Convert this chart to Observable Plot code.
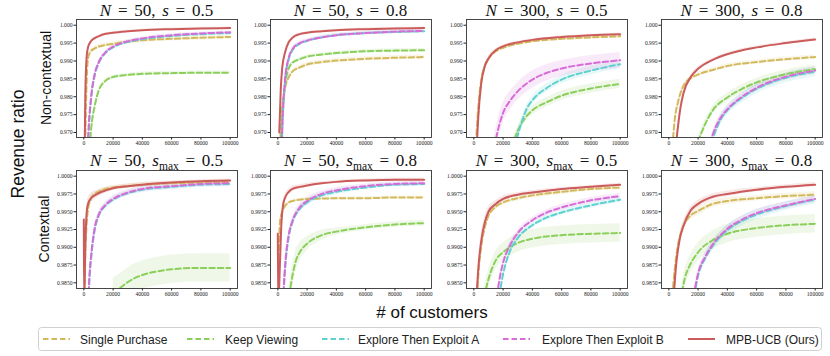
<!DOCTYPE html>
<html><head><meta charset="utf-8">
<script src="https://cdn.jsdelivr.net/npm/d3@7"></script>
<script src="https://cdn.jsdelivr.net/npm/@observablehq/plot@0.6"></script>
<style>
body{margin:0;background:#fff;}
#fig{position:relative;width:830px;height:356px;overflow:hidden;background:#fff;}
.panel{position:absolute;}
#overlay{position:absolute;left:0;top:0;pointer-events:none;}
</style></head><body><div id="fig"></div>
<script>
// ---------- data ----------
const seriesKeys = ["SP", "KV", "A", "B", "MPB"];
const seriesNames = ["Single Purchase", "Keep Viewing", "Explore Then Exploit A", "Explore Then Exploit B", "MPB-UCB (Ours)"];
const seriesColors = ["#d2b95c", "#8bcf5a", "#5fd0d0", "#d76cd8", "#cc5b5b"];
const xTicks = [0, 20000, 40000, 60000, 80000, 100000];
const yTicksTop = [0.970, 0.975, 0.980, 0.985, 0.990, 0.995, 1.000];
const yTicksBottom = [0.9850, 0.9875, 0.9900, 0.9925, 0.9950, 0.9975, 1.0000];
const colN = [50, 50, 300, 300];
const colS = ["0.5", "0.8", "0.5", "0.8"];
const rowNames = ["Non-contextual", "Contextual"];

// each entry: [customers, revenue ratio, band half-width]
const p1 = {
  SP: [[1000,0.967,0.001],[1500,0.978,0.001],[2000,0.985,0.0008],[3000,0.9910,0.0007],[5000,0.9928,0.0006],[7500,0.9935,0.0006],[10000,0.9940,0.0006],[15000,0.9945,0.0006],[20000,0.9948,0.0006],[30000,0.9954,0.0006],[40000,0.9958,0.0006],[60000,0.9962,0.0006],[80000,0.9965,0.0006],[100000,0.9967,0.0006]],
  KV: [[4000,0.966,0.0006],[5000,0.971,0.0006],[7500,0.9775,0.0006],[10000,0.9815,0.0005],[15000,0.9845,0.0005],[20000,0.9855,0.0005],[30000,0.9861,0.0005],[40000,0.9864,0.0005],[60000,0.9866,0.0005],[80000,0.9867,0.0005],[100000,0.9867,0.0005]],
  A: [[2700,0.966,0.0004],[3500,0.972,0.0004],[5000,0.9795,0.0004],[7500,0.986,0.0004],[10000,0.9892,0.0004],[15000,0.9923,0.0004],[20000,0.9938,0.0004],[30000,0.9953,0.0004],[40000,0.9961,0.0004],[60000,0.9970,0.0004],[80000,0.9975,0.0004],[100000,0.9978,0.0004]],
  B: [[2700,0.966,0.0004],[3500,0.9725,0.0004],[5000,0.980,0.0004],[7500,0.9865,0.0004],[10000,0.9895,0.0004],[15000,0.9925,0.0004],[20000,0.9940,0.0004],[30000,0.9955,0.0004],[40000,0.9963,0.0004],[60000,0.9972,0.0004],[80000,0.9977,0.0004],[100000,0.9980,0.0004]],
  MPB: [[600,0.966,0.0003],[1000,0.980,0.0003],[1500,0.988,0.0003],[2000,0.9915,0.0003],[3000,0.9940,0.0003],[5000,0.9956,0.0003],[7500,0.9964,0.0003],[10000,0.9969,0.0003],[15000,0.9976,0.0003],[20000,0.9979,0.0003],[30000,0.9983,0.0003],[40000,0.9986,0.0003],[60000,0.9989,0.0003],[80000,0.9991,0.0003],[100000,0.9992,0.0003]]
};
const p2 = {
  SP: [[1500,0.966,0.0007],[2500,0.974,0.0007],[4000,0.980,0.0007],[5000,0.9825,0.0007],[7500,0.9855,0.0007],[10000,0.9870,0.0006],[15000,0.9882,0.0006],[20000,0.9890,0.0006],[30000,0.9897,0.0006],[40000,0.9901,0.0006],[60000,0.9906,0.0006],[80000,0.9909,0.0006],[100000,0.9911,0.0006]],
  KV: [[2000,0.964,0.0005],[3000,0.975,0.0005],[5000,0.9835,0.0005],[7500,0.9880,0.0005],[10000,0.9895,0.0005],[15000,0.9905,0.0005],[20000,0.9912,0.0005],[30000,0.9918,0.0005],[40000,0.9922,0.0005],[60000,0.9927,0.0005],[80000,0.9929,0.0005],[100000,0.9930,0.0005]],
  A: [[2500,0.964,0.0004],[3500,0.975,0.0004],[5000,0.9845,0.0004],[7500,0.9905,0.0004],[10000,0.9930,0.0004],[15000,0.9948,0.0004],[20000,0.9956,0.0004],[30000,0.9966,0.0004],[40000,0.9972,0.0004],[60000,0.9978,0.0004],[80000,0.9981,0.0004],[100000,0.9983,0.0004]],
  B: [[2500,0.965,0.0005],[3500,0.976,0.0005],[5000,0.985,0.0005],[7500,0.9910,0.0005],[10000,0.9933,0.0005],[15000,0.9950,0.0005],[20000,0.9957,0.0005],[30000,0.9966,0.0005],[40000,0.9972,0.0005],[60000,0.9978,0.0005],[80000,0.9982,0.0005],[100000,0.9984,0.0005]],
  MPB: [[1000,0.970,0.0003],[2000,0.982,0.0003],[3000,0.988,0.0003],[5000,0.9925,0.0003],[7500,0.9953,0.0003],[10000,0.9965,0.0003],[15000,0.9975,0.0003],[20000,0.9979,0.0003],[30000,0.9983,0.0003],[40000,0.9986,0.0003],[60000,0.9989,0.0003],[80000,0.9991,0.0003],[100000,0.9992,0.0003]]
};
const p3 = {
  SP: [[1500,0.967,0.001],[2500,0.974,0.001],[5000,0.9845,0.0008],[7500,0.9885,0.0006],[10000,0.9905,0.0005],[15000,0.9927,0.0005],[20000,0.9937,0.0005],[30000,0.9948,0.0005],[40000,0.9955,0.0005],[60000,0.9962,0.0005],[80000,0.9966,0.0005],[100000,0.9969,0.0005]],
  KV: [[26000,0.966,0.0013],[30000,0.9705,0.0013],[35000,0.974,0.0013],[40000,0.9762,0.0013],[50000,0.9785,0.0013],[60000,0.9803,0.0013],[80000,0.9823,0.0013],[100000,0.9836,0.0013]],
  A: [[28000,0.966,0.0012],[32000,0.972,0.0012],[36000,0.9765,0.0012],[40000,0.9790,0.0012],[50000,0.9825,0.0012],[60000,0.9848,0.0012],[80000,0.9873,0.0012],[100000,0.9891,0.0012]],
  B: [[14000,0.966,0.003],[17000,0.9715,0.003],[20000,0.9755,0.0028],[25000,0.979,0.0026],[30000,0.9815,0.0025],[40000,0.9848,0.0024],[50000,0.9867,0.0023],[60000,0.9879,0.0022],[80000,0.9893,0.0022],[100000,0.9902,0.0022]],
  MPB: [[2000,0.966,0.001],[3000,0.974,0.001],[5000,0.9835,0.0008],[7500,0.9885,0.0006],[10000,0.9907,0.0005],[15000,0.9930,0.0004],[20000,0.9941,0.0004],[30000,0.9952,0.0003],[40000,0.9959,0.0003],[60000,0.9967,0.0003],[80000,0.9972,0.0003],[100000,0.9975,0.0003]]
};
const p4 = {
  SP: [[2500,0.966,0.0008],[4000,0.9735,0.0008],[6000,0.978,0.0008],[8000,0.981,0.0008],[10000,0.983,0.0007],[15000,0.9852,0.0007],[20000,0.9862,0.0007],[30000,0.9875,0.0006],[40000,0.9886,0.0006],[60000,0.9897,0.0006],[80000,0.9905,0.0006],[100000,0.9911,0.0006]],
  KV: [[20000,0.9675,0.0012],[25000,0.9725,0.0012],[30000,0.9762,0.0012],[40000,0.9798,0.0012],[50000,0.9822,0.0012],[60000,0.9840,0.0012],[80000,0.9863,0.0012],[100000,0.9877,0.0012]],
  A: [[29000,0.967,0.0014],[32000,0.9705,0.0014],[36000,0.974,0.0014],[40000,0.9762,0.0014],[50000,0.9797,0.0014],[60000,0.9822,0.0014],[80000,0.9853,0.0014],[100000,0.9870,0.0014]],
  B: [[28000,0.967,0.001],[32000,0.9715,0.001],[36000,0.9745,0.001],[40000,0.9765,0.001],[50000,0.9800,0.001],[60000,0.9825,0.001],[80000,0.9856,0.001],[100000,0.9873,0.001]],
  MPB: [[5000,0.967,0.0008],[6500,0.9725,0.0008],[8000,0.977,0.0007],[10000,0.981,0.0007],[15000,0.9855,0.0006],[20000,0.9878,0.0005],[30000,0.9903,0.0004],[40000,0.9919,0.0004],[60000,0.9938,0.0004],[80000,0.9950,0.0004],[100000,0.9960,0.0004]]
};
const p5 = {
  SP: [[300,0.980,0.0003],[1000,0.9885,0.0003],[2000,0.9935,0.0003],[3000,0.9955,0.0003],[5000,0.9969,0.0003],[7500,0.9975,0.0003],[10000,0.9978,0.0003],[15000,0.9982,0.0003],[20000,0.9984,0.0003],[30000,0.9986,0.0003],[40000,0.9988,0.0003],[60000,0.9990,0.0003],[80000,0.9991,0.0003],[100000,0.9992,0.0003]],
  KV: [[20000,0.9836,0.002],[25000,0.9843,0.002],[30000,0.9851,0.002],[40000,0.9861,0.002],[50000,0.9866,0.002],[60000,0.9869,0.002],[80000,0.9871,0.002],[100000,0.9871,0.002]],
  A: [[2600,0.980,0.0004],[4000,0.9860,0.0004],[5000,0.9885,0.0004],[7500,0.9925,0.0004],[10000,0.9943,0.0004],[15000,0.9959,0.0004],[20000,0.9967,0.0004],[30000,0.9976,0.0004],[40000,0.9981,0.0004],[60000,0.9985,0.0004],[80000,0.9988,0.0004],[100000,0.9989,0.0004]],
  B: [[2600,0.980,0.0004],[4000,0.9865,0.0004],[5000,0.9888,0.0004],[7500,0.9928,0.0004],[10000,0.9945,0.0004],[15000,0.9960,0.0004],[20000,0.9968,0.0004],[30000,0.9977,0.0004],[40000,0.9982,0.0004],[60000,0.9986,0.0004],[80000,0.9989,0.0004],[100000,0.9990,0.0004]],
  MPB: [[0,0.9939,0.0005],[200,0.982,0.0005],[1000,0.990,0.0008],[2000,0.9950,0.0008],[3000,0.9962,0.0008],[5000,0.9969,0.0007],[7500,0.9973,0.0006],[10000,0.9976,0.0005],[15000,0.9980,0.0004],[20000,0.9983,0.0003],[30000,0.9986,0.0003],[40000,0.9988,0.0003],[60000,0.9991,0.0002],[80000,0.9993,0.0002],[100000,0.9994,0.0002]]
};
const p6 = {
  SP: [[100,0.980,0.0002],[800,0.990,0.0002],[1600,0.9938,0.0002],[3800,0.9954,0.0002],[7500,0.9963,0.0002],[10000,0.9965,0.0002],[15000,0.9967,0.0002],[20000,0.9968,0.0002],[30000,0.99685,0.0002],[40000,0.9969,0.0002],[60000,0.9969,0.0002],[80000,0.9970,0.0002],[100000,0.9970,0.0002]],
  KV: [[7000,0.982,0.0016],[10000,0.9860,0.0016],[12500,0.9882,0.0015],[15000,0.9893,0.0013],[20000,0.9905,0.001],[30000,0.9917,0.0007],[40000,0.9922,0.0005],[60000,0.9928,0.0004],[80000,0.9932,0.0004],[100000,0.9934,0.0004]],
  A: [[3000,0.980,0.0005],[5000,0.9870,0.0005],[7500,0.9915,0.0005],[10000,0.9935,0.0005],[15000,0.9954,0.0005],[20000,0.9963,0.0005],[30000,0.9973,0.0004],[40000,0.9978,0.0004],[60000,0.9984,0.0003],[80000,0.9988,0.0003],[100000,0.9989,0.0003]],
  B: [[3000,0.980,0.0005],[5000,0.9875,0.0005],[7500,0.9918,0.0005],[10000,0.9937,0.0005],[15000,0.9956,0.0005],[20000,0.9965,0.0005],[30000,0.9975,0.0004],[40000,0.9980,0.0004],[60000,0.9986,0.0003],[80000,0.9989,0.0003],[100000,0.9990,0.0003]],
  MPB: [[0,0.9919,0.0004],[300,0.982,0.0004],[1500,0.9880,0.0005],[2500,0.9935,0.0005],[3500,0.9958,0.0005],[5000,0.9970,0.0005],[7500,0.9978,0.0004],[10000,0.9982,0.0004],[15000,0.9985,0.0003],[20000,0.9987,0.0003],[30000,0.9990,0.0002],[40000,0.9992,0.0002],[60000,0.9994,0.0002],[80000,0.9995,0.0002],[100000,0.9995,0.0002]]
};
const p7 = {
  SP: [[2000,0.982,0.0005],[3500,0.9872,0.0005],[5000,0.9900,0.0005],[7500,0.9928,0.0005],[10000,0.9944,0.0004],[15000,0.9957,0.0004],[20000,0.9963,0.0004],[30000,0.9969,0.0004],[40000,0.9973,0.0004],[60000,0.9978,0.0004],[80000,0.9982,0.0003],[100000,0.9984,0.0003]],
  KV: [[7000,0.983,0.0013],[10000,0.9855,0.0013],[13000,0.9873,0.0013],[16000,0.9885,0.0013],[20000,0.9893,0.0013],[30000,0.9906,0.0013],[40000,0.9912,0.0013],[60000,0.9917,0.0013],[80000,0.9919,0.0013],[100000,0.9920,0.0013]],
  A: [[16500,0.982,0.0004],[20000,0.9862,0.0004],[25000,0.9896,0.0004],[30000,0.9913,0.0004],[40000,0.9931,0.0004],[50000,0.9942,0.0004],[60000,0.9949,0.0004],[80000,0.9959,0.0004],[100000,0.9967,0.0004]],
  B: [[15000,0.982,0.0004],[18000,0.9860,0.0004],[20000,0.9878,0.0004],[25000,0.9904,0.0004],[30000,0.9920,0.0004],[40000,0.9938,0.0004],[50000,0.9949,0.0004],[60000,0.9956,0.0004],[80000,0.9966,0.0004],[100000,0.9972,0.0004]],
  MPB: [[1600,0.982,0.001],[3000,0.9868,0.001],[5000,0.9908,0.001],[7500,0.9935,0.0009],[10000,0.9950,0.0007],[15000,0.9961,0.0005],[20000,0.9968,0.0004],[30000,0.9974,0.0003],[40000,0.9977,0.0003],[60000,0.9982,0.0002],[80000,0.9985,0.0002],[100000,0.9988,0.0002]]
};
const p8 = {
  SP: [[2000,0.982,0.0006],[4000,0.9868,0.0006],[6000,0.9900,0.0006],[8000,0.9918,0.0006],[10000,0.9930,0.0006],[15000,0.9945,0.0006],[20000,0.9951,0.0006],[30000,0.9961,0.0005],[40000,0.9965,0.0005],[60000,0.9969,0.0004],[80000,0.9972,0.0004],[100000,0.9974,0.0004]],
  KV: [[8000,0.9825,0.0013],[11000,0.9857,0.0013],[14000,0.9873,0.0013],[20000,0.9893,0.0013],[30000,0.9910,0.0013],[40000,0.9919,0.0013],[60000,0.9927,0.0013],[80000,0.9931,0.0013],[100000,0.9933,0.0013]],
  A: [[16500,0.982,0.0007],[20000,0.9860,0.0007],[25000,0.9885,0.0007],[30000,0.9902,0.0007],[40000,0.9924,0.0007],[50000,0.9937,0.0007],[60000,0.9946,0.0007],[80000,0.9958,0.0006],[100000,0.9967,0.0006]],
  B: [[16000,0.982,0.0005],[20000,0.9863,0.0005],[25000,0.9887,0.0005],[30000,0.9904,0.0005],[40000,0.9926,0.0005],[50000,0.9939,0.0005],[60000,0.9948,0.0005],[80000,0.9959,0.0005],[100000,0.9968,0.0005]],
  MPB: [[3000,0.982,0.0006],[5000,0.9875,0.0006],[7500,0.9912,0.0006],[10000,0.9930,0.0006],[15000,0.9952,0.0005],[20000,0.9961,0.0005],[30000,0.9971,0.0004],[40000,0.9975,0.0004],[60000,0.9981,0.0003],[80000,0.9985,0.0003],[100000,0.9988,0.0003]]
};
const panels = [p1, p2, p3, p4, p5, p6, p7, p8];

// ---------- layout ----------
const frameLeft = [76, 270, 466, 661];
const frameW = 161;
const rowTop = [19, 170];
const frameH = 118;
const mL = 38, mR = 3, mT = 3, mB = 15;
const SERIF = "'Liberation Serif','DejaVu Serif',serif";
const SANS = "'Liberation Sans','DejaVu Sans',sans-serif";

const fig = document.getElementById("fig");

panels.forEach((pd, idx) => {
  const row = idx < 4 ? 0 : 1;
  const col = idx % 4;
  const rows = [];
  seriesKeys.forEach((k, i) => pd[k].forEach(([x, y, e]) => rows.push({s: i, x, y, lo: y - e, hi: y + e})));
  const marks = [];
  seriesKeys.forEach((k, i) => {
    const d = rows.filter(r => r.s === i);
    marks.push(Plot.areaY(d, {x: "x", y1: "lo", y2: "hi", fill: seriesColors[i], fillOpacity: 0.14, curve: "monotone-x", clip: true}));
  });
  seriesKeys.forEach((k, i) => {
    const d = rows.filter(r => r.s === i);
    marks.push(Plot.line(d, {x: "x", y: "y", stroke: seriesColors[i], strokeWidth: 2, strokeDasharray: i === 4 ? null : "5.5,3", curve: "monotone-x", clip: true}));
  });
  marks.push(Plot.frame({stroke: "#333", strokeWidth: 0.9}));
  const chart = Plot.plot({
    width: frameW + mL + mR,
    height: frameH + mT + mB,
    marginLeft: mL, marginRight: mR, marginTop: mT, marginBottom: mB,
    style: {fontFamily: SERIF, fontSize: "5.6px", background: "transparent", color: "#222"},
    x: {domain: [-5000, 105000], ticks: xTicks, tickFormat: d => String(d), tickSize: 2.5, tickPadding: 1.5, label: null},
    y: {domain: row === 0 ? [0.9686, 1.0016] : [0.9842, 1.0008], ticks: row === 0 ? yTicksTop : yTicksBottom,
        tickFormat: row === 0 ? ".3f" : ".4f", tickSize: 2.5, tickPadding: 1.5, label: null},
    marks
  });
  chart.classList.add("panel");
  chart.style.left = (frameLeft[col] - mL) + "px";
  chart.style.top = (rowTop[row] - mT) + "px";
  fig.appendChild(chart);
});

// ---------- overlay text & legend ----------
let s = `<svg id="overlay" width="830" height="356" xmlns="http://www.w3.org/2000/svg">`;
const titleBase = [16, 166];
for (let r = 0; r < 2; r++) {
  for (let c = 0; c < 4; c++) {
    const cx = frameLeft[c] + frameW / 2;
    const sPart = r === 0
      ? `<tspan font-style="italic">s</tspan> = ${colS[c]}`
      : `<tspan font-style="italic">s</tspan><tspan font-size="11.5" dy="3.5">max</tspan><tspan dy="-3.5"> = ${colS[c]}</tspan>`;
    s += `<text x="${cx}" y="${titleBase[r]}" text-anchor="middle" font-family="${SERIF}" font-size="17" word-spacing="2.5" fill="#111"><tspan font-style="italic">N</tspan> = ${colN[c]}, ${sPart}</text>`;
  }
}
s += `<text transform="translate(51,${rowTop[0] + frameH / 2}) rotate(-90)" text-anchor="middle" font-family="${SANS}" font-size="14" fill="#111">${rowNames[0]}</text>`;
s += `<text transform="translate(49,${rowTop[1] + frameH / 2}) rotate(-90)" text-anchor="middle" font-family="${SANS}" font-size="14" fill="#111">${rowNames[1]}</text>`;
s += `<text transform="translate(24,144) rotate(-90)" text-anchor="middle" font-family="${SANS}" font-size="17.5" fill="#111">Revenue ratio</text>`;
s += `<text x="432" y="318" text-anchor="middle" font-family="${SANS}" font-size="17" fill="#111"># of customers</text>`;
// legend
s += `<rect x="38.5" y="327.5" width="783" height="23" rx="3" ry="3" fill="#fff" stroke="#d0d0d0" stroke-width="1"/>`;
const legLineX = [43, 187, 322, 503, 688];
const legTextX = [80, 225, 358, 542, 726];
seriesNames.forEach((n, i) => {
  s += `<line x1="${legLineX[i]}" x2="${legLineX[i] + 27}" y1="339" y2="339" stroke="${seriesColors[i]}" stroke-width="2" ${i === 4 ? "" : 'stroke-dasharray="5.5,3"'}/>`;
  s += `<text x="${legTextX[i]}" y="343.5" font-family="${SANS}" font-size="12" fill="#222">${n}</text>`;
});
s += `</svg>`;
fig.insertAdjacentHTML("beforeend", s);
</script>
</body></html>
